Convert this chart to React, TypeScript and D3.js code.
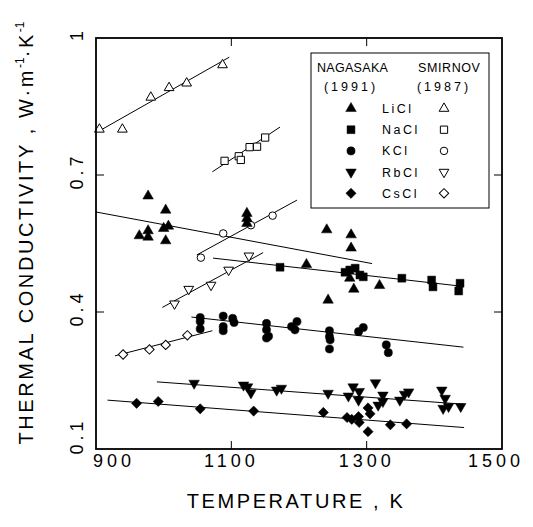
import React from "react";
import * as d3 from "d3";

// ---- Data (Temperature K, Thermal conductivity W/m/K) ----
const nagLiCl: [number, number][] = [
  [977, 0.654], [1003, 0.623], [964, 0.567], [977, 0.578], [977, 0.564], [1000, 0.583],
  [1007, 0.588], [1003, 0.556], [1123, 0.616], [1123, 0.605], [1123, 0.594], [1241, 0.58],
  [1277, 0.569], [1277, 0.54], [1211, 0.504], [1275, 0.474], [1281, 0.45], [1319, 0.458], [1243, 0.426],
];
const nagNaCl: [number, number][] = [
  [1172, 0.498], [1268, 0.487], [1275, 0.492], [1283, 0.496], [1290, 0.481], [1295, 0.477],
  [1352, 0.474], [1396, 0.47], [1398, 0.455], [1438, 0.463], [1436, 0.446],
];
const nagKCl: [number, number][] = [
  [1054, 0.388], [1054, 0.379], [1054, 0.363], [1088, 0.391], [1088, 0.368], [1088, 0.359],
  [1102, 0.386], [1104, 0.377], [1152, 0.375], [1152, 0.361], [1155, 0.347], [1152, 0.343],
  [1189, 0.368], [1197, 0.379], [1194, 0.361], [1245, 0.359], [1245, 0.346], [1246, 0.339],
  [1245, 0.319], [1288, 0.357], [1295, 0.366], [1329, 0.328], [1332, 0.311],
];
const nagRbCl: [number, number][] = [
  [1045, 0.244], [1118, 0.24], [1124, 0.236], [1129, 0.223], [1167, 0.229], [1174, 0.233],
  [1243, 0.222], [1273, 0.216], [1280, 0.236], [1289, 0.226], [1288, 0.207], [1313, 0.245],
  [1317, 0.196], [1324, 0.218], [1324, 0.204], [1349, 0.207], [1356, 0.22], [1362, 0.225],
  [1411, 0.229], [1416, 0.211], [1413, 0.189], [1421, 0.193], [1439, 0.193],
];
const nagCsCl: [number, number][] = [
  [960, 0.2], [992, 0.204], [1054, 0.188], [1133, 0.183], [1236, 0.18], [1271, 0.169],
  [1278, 0.165], [1288, 0.171], [1289, 0.158], [1302, 0.19], [1305, 0.177], [1302, 0.138],
  [1335, 0.153], [1359, 0.155],
];
const smiLiCl: [number, number][] = [
  [905, 0.8], [939, 0.8], [981, 0.87], [1008, 0.891], [1034, 0.901], [1087, 0.941],
];
const smiNaCl: [number, number][] = [
  [1090, 0.731], [1111, 0.741], [1114, 0.733], [1127, 0.761], [1138, 0.762], [1150, 0.782],
];
const smiKCl: [number, number][] = [
  [1055, 0.519], [1088, 0.572], [1129, 0.59], [1161, 0.611],
];
const smiRbCl: [number, number][] = [
  [1016, 0.418], [1037, 0.45], [1070, 0.459], [1096, 0.492], [1126, 0.523],
];
const smiCsCl: [number, number][] = [
  [940, 0.307], [979, 0.318], [1003, 0.328], [1035, 0.349],
];

// fitted lines: [x1, y1, x2, y2]
const fitLines: [number, number, number, number][] = [
  [903, 0.795, 1097, 0.958],
  [1072, 0.707, 1172, 0.805],
  [1049, 0.525, 1197, 0.645],
  [998, 0.41, 1147, 0.53],
  [928, 0.304, 1072, 0.359],
  [900, 0.619, 1308, 0.506],
  [1073, 0.518, 1443, 0.456],
  [1041, 0.389, 1443, 0.323],
  [990, 0.247, 1444, 0.198],
  [917, 0.207, 1444, 0.147],
];

const xTicks = [900, 1100, 1300, 1500];
const yTicks = [0.1, 0.4, 0.7, 1];
const yTickLabels = ["0.1", "0.4", "0.7", "1"];
const saltNames = ["LiCl", "NaCl", "KCl", "RbCl", "CsCl"];

const W = 533, H = 527;
const x = d3.scaleLinear().domain([900, 1500]).range([96, 502]);
const y = d3.scaleLinear().domain([0.1, 1]).range([449, 38]);

type Kind = "up" | "square" | "circle" | "down" | "diamond";
const kinds: Kind[] = ["up", "square", "circle", "down", "diamond"];

function symPath(kind: Kind, filled: boolean): string {
  const s = filled ? 1 : 0.85;
  switch (kind) {
    case "up":
    case "down":
      return d3.symbol().type(d3.symbolTriangle).size(48 * s)()!;
    case "square":
      return d3.symbol().type(d3.symbolSquare).size(62 * s)()!;
    case "circle":
      return d3.symbol().type(d3.symbolCircle).size(52 * s)()!;
    case "diamond":
      return d3.symbol().type(d3.symbolSquare).size(52 * s)()!;
  }
}
function rot(kind: Kind) {
  return kind === "down" ? 180 : kind === "diamond" ? 45 : 0;
}

function Marker({ cx, cy, kind, filled }: { cx: number; cy: number; kind: Kind; filled: boolean }) {
  return (
    <path
      d={symPath(kind, filled)}
      transform={`translate(${cx},${cy}) rotate(${rot(kind)})`}
      fill={filled ? "#000" : "#fff"}
      stroke="#000"
      strokeWidth={filled ? 0.5 : 1}
    />
  );
}

const nagSets = [nagLiCl, nagNaCl, nagKCl, nagRbCl, nagCsCl];
const smiSets = [smiLiCl, smiNaCl, smiKCl, smiRbCl, smiCsCl];

const font = "'Liberation Sans', Arial, Helvetica, sans-serif";

export default function App() {
  return (
    <svg width={W} height={H} style={{ position: "absolute", left: 0, top: 0, background: "#fff" }} fontFamily={font}>
      <rect x={0} y={0} width={W} height={H} fill="#fff" />
      {/* fit lines */}
      {fitLines.map((l, i) => (
        <line key={"l" + i} x1={x(l[0])} y1={y(l[1])} x2={x(l[2])} y2={y(l[3])} stroke="#000" strokeWidth={1} />
      ))}
      {/* Smirnov open */}
      {smiSets.map((set, si) =>
        set.map((p, i) => <Marker key={`s${si}-${i}`} cx={x(p[0])} cy={y(p[1])} kind={kinds[si]} filled={false} />)
      )}
      {/* Nagasaka filled */}
      {nagSets.map((set, si) =>
        set.map((p, i) => <Marker key={`n${si}-${i}`} cx={x(p[0])} cy={y(p[1])} kind={kinds[si]} filled={true} />)
      )}
      {/* frame */}
      <rect x={x(900)} y={y(1)} width={x(1500) - x(900)} height={y(0.1) - y(1)} fill="none" stroke="#000" strokeWidth={1.8} />
      {/* ticks */}
      {xTicks.slice(1, -1).map((t) => (
        <g key={"xt" + t}>
          <line x1={x(t)} x2={x(t)} y1={y(0.1)} y2={y(0.1) - 8} stroke="#000" strokeWidth={1} />
          <line x1={x(t)} x2={x(t)} y1={y(1)} y2={y(1) + 8} stroke="#000" strokeWidth={1} />
        </g>
      ))}
      {yTicks.slice(1, -1).map((t) => (
        <g key={"yt" + t}>
          <line x1={x(900)} x2={x(900) + 8} y1={y(t)} y2={y(t)} stroke="#000" strokeWidth={1} />
          <line x1={x(1500)} x2={x(1500) - 8} y1={y(t)} y2={y(t)} stroke="#000" strokeWidth={1} />
        </g>
      ))}
      {/* x tick labels */}
      {xTicks.map((t, i) => (
        <text
          key={"xl" + t}
          x={x(t) + (i === 0 ? 18 : i === xTicks.length - 1 ? -6 : 0)}
          y={467}
          fontSize={18}
          letterSpacing={4}
          textAnchor="middle"
        >
          {String(t)}
        </text>
      ))}
      {/* y tick labels */}
      {yTicks.map((t, i) => (
        <text
          key={"yl" + t}
          transform={`translate(83,${y(t) - (i === 0 ? 13 : 4)}) rotate(-90)`}
          fontSize={18}
          letterSpacing={4}
          textAnchor="middle"
        >
          {yTickLabels[i]}
        </text>
      ))}
      {/* axis titles */}
      <text x={296} y={508} fontSize={20} letterSpacing={2.6} textAnchor="middle">
        TEMPERATURE , K
      </text>
      <text transform="translate(33,233) rotate(-90)" fontSize={20} letterSpacing={2.6} textAnchor="middle">
        THERMAL CONDUCTIVITY , W·m
        <tspan dy={-9} fontSize={12} letterSpacing={0}>-1</tspan>
        <tspan dy={9}>·K</tspan>
        <tspan dy={-9} fontSize={12} letterSpacing={0}>-1</tspan>
      </text>
      {/* legend */}
      <rect x={311} y={53} width={178} height={155} fill="#fff" stroke="#000" strokeWidth={1} />
      <text x={317} y={72} fontSize={12.5} letterSpacing={0.3}>NAGASAKA</text>
      <text x={418} y={72} fontSize={12.5} letterSpacing={0.6}>SMIRNOV</text>
      <text x={351} y={91} fontSize={12.5} letterSpacing={3} textAnchor="middle">(1991)</text>
      <text x={444} y={91} fontSize={12.5} letterSpacing={3} textAnchor="middle">(1987)</text>
      {saltNames.map((n, i) => {
        const ry = 108.5 + i * 21.2;
        return (
          <g key={"lg" + n}>
            <Marker cx={351} cy={ry} kind={kinds[i]} filled={true} />
            <text x={382} y={ry + 4.5} fontSize={12.5} letterSpacing={2.5}>{n}</text>
            <Marker cx={444} cy={ry} kind={kinds[i]} filled={false} />
          </g>
        );
      })}
    </svg>
  );
}
